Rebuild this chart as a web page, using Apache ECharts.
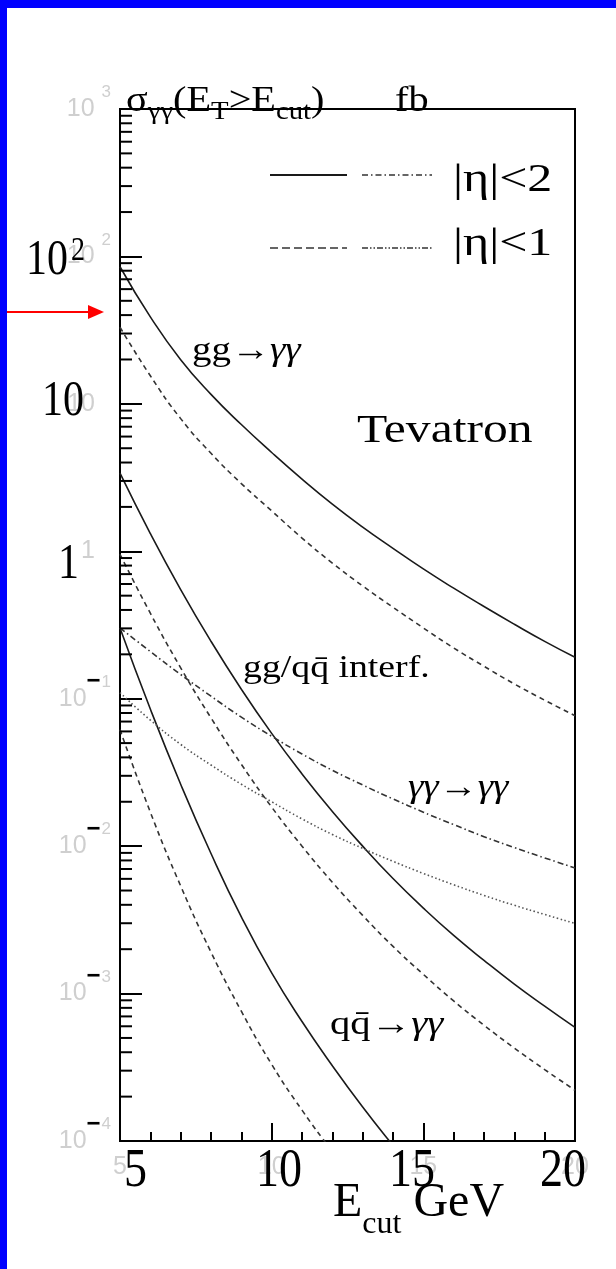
<!DOCTYPE html>
<html>
<head>
<meta charset="utf-8">
<script src="https://cdn.jsdelivr.net/npm/echarts@6/dist/echarts.min.js"></script>
<style>
  html, body { margin: 0; padding: 0; background: #ffffff; }
  #chart { width: 616px; height: 1269px; }
</style>
</head>
<body>
<div id="chart"></div>
<script>
// E_cut values (GeV) at which each cross section is tabulated
const ecut = [5, 6, 7, 8, 9, 10, 11, 12, 13, 14, 15, 16, 17, 18, 19, 20];

// sigma(E_T > E_cut) in fb
const ggEta2 = [85.1, 38.9, 19.95, 11.6, 7.24, 4.68, 3.09, 2.09, 1.46, 1.047, 0.759, 0.562, 0.422, 0.320, 0.245, 0.191];
const ggEta1 = [33.1, 15.5, 7.94, 4.62, 2.88, 1.88, 1.23, 0.832, 0.582, 0.417, 0.302, 0.221, 0.166, 0.126, 0.0977, 0.0767];
const interfEta2 = [3.39, 1.32, 0.550, 0.245, 0.116, 0.0582, 0.0309, 0.0172, 0.0100, 0.00603, 0.00380, 0.00248, 0.00168, 0.00116, 0.000822, 0.000589];
const interfEta1 = [0.955, 0.380, 0.162, 0.0741, 0.0359, 0.0184, 0.0100, 0.00569, 0.00339, 0.00209, 0.00135, 0.000891, 0.000610, 0.000427, 0.000305, 0.000221];
const qqEta2 = [0.302, 0.0851, 0.0263, 0.00891, 0.00331, 0.00138, 0.000646, 0.000324, 0.000170, 0.0000933, 0.0000525];
const qqEta1 = [0.0617, 0.0170, 0.00537, 0.00191, 0.000759, 0.000331, 0.000162, 0.0000851, 0.0000468];
const aaEta2 = [0.302, 0.209, 0.146, 0.104, 0.0750, 0.0556, 0.0422, 0.0327, 0.0260, 0.0209, 0.0170, 0.0140, 0.0116, 0.00977, 0.00832, 0.00711];
const aaEta1 = [0.110, 0.0716, 0.0490, 0.0355, 0.0263, 0.0200, 0.0153, 0.0120, 0.00966, 0.00789, 0.00653, 0.00547, 0.00463, 0.00397, 0.00344, 0.00299];

// axis ticks
const yDecades = [-4, -3, -2, -1, 0, 1, 2, 3];
const yMinorMultipliers = [2, 3, 4, 5, 6, 7, 8, 9];

const serif = "'Liberation Serif', 'DejaVu Serif', serif";
const sans = "'Liberation Sans', Arial, sans-serif";
const faint = '#cfcfcf';

const pairs = (vals) => vals.map((v, i) => [ecut[i], v]);

const yMinorTicks = [];
yDecades.slice(0, -1).forEach(d => yMinorMultipliers.forEach(m => yMinorTicks.push([5, m * Math.pow(10, d)])));

function curve(name, vals, dash, color) {
  return {
    name, type: 'line', data: pairs(vals), showSymbol: false, smooth: 0.5,
    clip: true, silent: true,
    lineStyle: { color: color || '#1a1a1a', width: 1.6, type: dash || 'solid' }
  };
}

// faint ROOT-style decade labels: 10 with a raised exponent
const supText = {
  b: { fontFamily: sans, fontSize: 25, color: faint, lineHeight: 56, verticalAlign: 'middle' },
  s: { fontFamily: sans, fontSize: 17, color: faint, lineHeight: 56, verticalAlign: 'top', padding: [3, 0, 0, 7] },
  m: { fontFamily: sans, fontSize: 24, color: '#000', fontWeight: 'bold', lineHeight: 56, verticalAlign: 'top', padding: [-1, 0, 0, 0] },
  n: { fontFamily: sans, fontSize: 17, color: faint, lineHeight: 56, verticalAlign: 'top', padding: [3, 0, 0, 1] },
  p: { fontFamily: sans, fontSize: 25, color: faint, lineHeight: 56, verticalAlign: 'middle', padding: [0, 16, 0, 0] }
};

function yLabel(v) {
  const e = Math.round(Math.log10(v));
  if (e === 0) return '{p|1}';
  if (e === 1) return '{p|10}';
  if (e > 1) return '{b|10}{s|' + e + '}';
  return '{b|10}{m|\u2212}{n|' + (-e) + '}';
}

// text of the figure itself is slightly widened
const stretch = 1.18;
function label(x, y, text, size, extra) {
  return Object.assign({ type: 'text', x, y, scaleX: stretch, z: 50,
    style: { text, font: size + 'px ' + serif, fill: '#000', textVerticalAlign: 'middle' } }, extra || {});
}
function bigNumber(x, y, text, size) {
  return { type: 'text', x, y, scaleY: 1.2, z: 60,
    style: { text, font: size + 'px ' + serif, fill: '#000', textVerticalAlign: 'bottom' } };
}
const gammaRich = {
  r: { fontFamily: serif, fontSize: 33, fill: '#000' },
  i: { fontFamily: serif, fontSize: 33, fontStyle: 'italic', fill: '#000' }
};

const chart = echarts.init(document.getElementById('chart'), null, { renderer: 'canvas' });

const option = {
  backgroundColor: '#ffffff',
  animation: false,
  grid: { left: 120, right: 41, top: 109, bottom: 128, show: true, borderColor: '#000', borderWidth: 2, backgroundColor: 'transparent' },
  xAxis: {
    type: 'value', min: 5, max: 20, interval: 5,
    axisLine: { show: true, lineStyle: { color: '#000', width: 2 } },
    axisTick: { show: true, inside: true, length: 18, lineStyle: { color: '#000', width: 2 } },
    minorTick: { show: true, splitNumber: 5, length: 9, lineStyle: { color: '#000', width: 2 } },
    splitLine: { show: false },
    axisLabel: { show: true, margin: 14, fontFamily: sans, fontSize: 25, color: faint }
  },
  yAxis: {
    type: 'log', logBase: 10, min: 1e-4, max: 1e3,
    axisLine: { show: true, lineStyle: { color: '#000', width: 2 } },
    axisTick: { show: true, inside: true, length: 22, lineStyle: { color: '#000', width: 2 } },
    splitLine: { show: false },
    axisLabel: { show: true, margin: 9, formatter: yLabel, rich: supText, align: 'right' }
  },
  series: [
    curve('gg |eta|<2', ggEta2),
    curve('gg |eta|<1', ggEta1, [5, 4], '#333'),
    curve('interf |eta|<2', interfEta2),
    curve('interf |eta|<1', interfEta1, [5, 4], '#333'),
    curve('qq |eta|<2', qqEta2),
    curve('qq |eta|<1', qqEta1, [5, 4], '#333'),
    curve('aa |eta|<2', aaEta2, [6, 3, 1.5, 3], '#333'),
    curve('aa |eta|<1', aaEta1, [1.5, 2.5], '#555'),
    {
      // logarithmic minor ticks (2..9 x 10^n) on the left axis
      type: 'custom', coordinateSystem: 'cartesian2d', silent: true, clip: false, z: 5,
      data: yMinorTicks,
      renderItem: (params, api) => {
        const p = api.coord([api.value(0), api.value(1)]);
        return { type: 'line', shape: { x1: p[0], y1: p[1], x2: p[0] + 12, y2: p[1] },
                 style: { stroke: '#000', lineWidth: 2 } };
      }
    }
  ],
  graphic: [
    // slide frame
    { type: 'rect', shape: { x: 0, y: 0, width: 7, height: 1269 }, style: { fill: '#0000ff' }, z: 100 },
    { type: 'rect', shape: { x: 0, y: 0, width: 616, height: 8 }, style: { fill: '#0000ff' }, z: 100 },
    // pointer arrow
    { type: 'line', shape: { x1: 7, y1: 312, x2: 92, y2: 312 }, style: { stroke: '#ff0000', lineWidth: 2 }, z: 100 },
    { type: 'polygon', shape: { points: [[88, 305], [104, 312], [88, 319]] }, style: { fill: '#ff0000' }, z: 100 },
    // title
    { type: 'text', x: 126, y: 124.6, scaleX: 1.15, z: 50, style: {
        text: '{a|\u03c3}{s|\u03b3\u03b3}{a|(E}{s|T}{a|>E}{s|cut}{a|)}',
        textVerticalAlign: 'bottom',
        rich: {
          a: { fontFamily: serif, fontSize: 35, fill: '#000', lineHeight: 40, verticalAlign: 'top' },
          s: { fontFamily: serif, fontSize: 25, fill: '#000', lineHeight: 40, verticalAlign: 'bottom', padding: [0, 0, 0, 0] }
        } } },
    { type: 'text', x: 395, y: 124.6, scaleX: 1.15, z: 50, style: {
        text: '{a|fb}', textVerticalAlign: 'bottom',
        rich: { a: { fontFamily: serif, fontSize: 35, fill: '#000', lineHeight: 40, verticalAlign: 'top' } } } },
    // legend
    { type: 'line', shape: { x1: 270, y1: 175, x2: 347, y2: 175 }, style: { stroke: '#1a1a1a', lineWidth: 1.8 } },
    { type: 'line', shape: { x1: 362, y1: 175, x2: 432, y2: 175 }, style: { stroke: '#333', lineWidth: 1.6, lineDash: [6, 3, 1.5, 3] } },
    { type: 'line', shape: { x1: 270, y1: 248, x2: 347, y2: 248 }, style: { stroke: '#333', lineWidth: 1.6, lineDash: [8, 4] } },
    { type: 'line', shape: { x1: 362, y1: 248, x2: 432, y2: 248 }, style: { stroke: '#333', lineWidth: 1.6, lineDash: [6, 2, 1.5, 2, 1.5, 2] } },
    label(453, 180, '|\u03b7|<2', 40, { scaleX: 1.25 }),
    label(453, 244, '|\u03b7|<1', 40, { scaleX: 1.25 }),
    // process labels
    { type: 'text', x: 192, y: 351, scaleX: stretch, z: 50, style: { text: '{r|gg\u2192}{i|\u03b3\u03b3}', rich: gammaRich, textVerticalAlign: 'middle' } },
    label(357, 431, 'Tevatron', 40, { scaleX: 1.24 }),
    label(243, 669, 'gg/qq\u0304 interf.', 32),
    { type: 'text', x: 408, y: 788, scaleX: stretch, z: 50, style: { text: '{i|\u03b3\u03b3}{r|\u2192}{i|\u03b3\u03b3}', rich: gammaRich, textVerticalAlign: 'middle' } },
    { type: 'text', x: 330, y: 1025, scaleX: 1.23, z: 50, style: { text: '{r|qq\u0304\u2192}{i|\u03b3\u03b3}', rich: gammaRich, textVerticalAlign: 'middle' } },
    // large axis numbers
    bigNumber(26, 286, '10', 42),
    bigNumber(71, 268, '2', 28),
    bigNumber(42, 427, '10', 42),
    bigNumber(58, 590, '1', 42),
    bigNumber(124, 1199, '5', 46),
    bigNumber(256, 1199, '10', 46),
    bigNumber(389, 1199, '15', 46),
    bigNumber(540, 1199, '20', 46),
    // x axis title
    { type: 'text', x: 333, y: 1231.7, z: 50, style: {
        text: '{a|E}{s|cut}{a| GeV}', textVerticalAlign: 'bottom',
        rich: {
          a: { fontFamily: serif, fontSize: 48, fill: '#000', lineHeight: 52, verticalAlign: 'top' },
          s: { fontFamily: serif, fontSize: 32, fill: '#000', lineHeight: 52, verticalAlign: 'bottom', padding: [0, 0, -9, 0] }
        } } }
  ]
};

chart.setOption(option);
</script>
</body>
</html>
